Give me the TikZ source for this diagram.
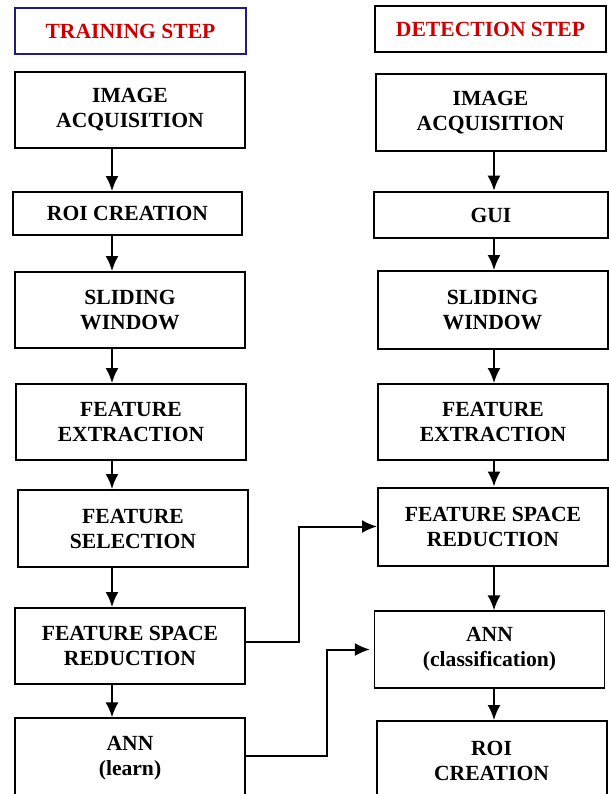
\documentclass[tikz,border=0pt]{standalone}
\usepackage{fontspec}
\setmainfont{Liberation Serif}
\usetikzlibrary{arrows.meta}

\begin{document}
\begin{tikzpicture}[>={Latex[length=7.5pt, width=6.5pt]}, x=0.5pt, y=-0.5pt]

\definecolor{headred}{RGB}{204, 0, 0}
\definecolor{headnavy}{RGB}{30, 30, 120}

% Page frame
\useasboundingbox (0,0) rectangle (609,794);
\fill[white] (0,0) rectangle (609,794);

\tikzset{
    stage box/.style={
        draw, line width=1pt, rectangle,
        minimum width=115pt, minimum height=38pt, inner sep=0pt,
        align=center, font=\fontsize{10.8}{12.5}\selectfont\bfseries
    },
    head box/.style={
        stage box, minimum width=115.5pt, minimum height=23pt, text=headred
    },
    feed/.style={
        ->, line width=1pt
    }
}

% Headings
\node[head box, draw=headnavy] (trainHead) at (130.5, 31) {TRAINING STEP};
\node[head box] (detectHead) at (490.5, 29) {DETECTION STEP};

% --- TRAINING STEP ---
\node[stage box] (trainImg) at (130, 110) {IMAGE\\ACQUISITION};
\node[stage box, minimum width=114.5pt, minimum height=21.5pt] (trainRoi) at (127.5, 213.5) {ROI CREATION};
\node[stage box] (trainSlide) at (130, 310) {SLIDING\\WINDOW};
\node[stage box] (trainExtract) at (131, 422) {FEATURE\\EXTRACTION};
\node[stage box, minimum height=38.5pt] (trainSelect) at (133, 528.5) {FEATURE\\SELECTION};
\node[stage box] (trainReduce) at (130, 646) {FEATURE SPACE\\REDUCTION};
\node[stage box, line width=0.6pt, minimum height=40pt] (trainAnn) at (130, 758) {ANN\\(learn)};

% --- DETECTION STEP ---
\node[stage box, minimum height=38.5pt] (detectImg) at (490.5, 112.5) {IMAGE\\ACQUISITION};
\node[stage box, minimum width=117pt, minimum height=23.3pt] (detectGui) at (491, 215) {GUI};
\node[stage box, minimum height=39pt] (detectSlide) at (492.5, 310) {SLIDING\\WINDOW};
\node[stage box] (detectExtract) at (493, 422) {FEATURE\\EXTRACTION};
\node[stage box, minimum height=39pt] (detectReduce) at (493, 526.5) {FEATURE SPACE\\REDUCTION};
\node[stage box, line width=0.6pt, minimum height=38.5pt] (detectAnn) at (489.5, 649.5) {ANN\\(classification)};
\node[stage box, minimum height=40pt] (detectRoi) at (491.5, 761) {ROI\\CREATION};

% arrow lanes
\coordinate (trainLane) at (112, 0);
\coordinate (detectLane) at (494, 0);

\draw[feed] (trainImg.south -| trainLane) -- (trainRoi.north -| trainLane);
\draw[feed] (trainRoi.south -| trainLane) -- (trainSlide.north -| trainLane);
\draw[feed] (trainSlide.south -| trainLane) -- (trainExtract.north -| trainLane);
\draw[feed] (trainExtract.south -| trainLane) -- (trainSelect.north -| trainLane);
\draw[feed] (trainSelect.south -| trainLane) -- (trainReduce.north -| trainLane);
\draw[feed] (trainReduce.south -| trainLane) -- (trainAnn.north -| trainLane);

\draw[feed] (detectImg.south -| detectLane) -- (detectGui.north -| detectLane);
\draw[feed] (detectGui.south -| detectLane) -- (detectSlide.north -| detectLane);
\draw[feed] (detectSlide.south -| detectLane) -- (detectExtract.north -| detectLane);
\draw[feed] (detectExtract.south -| detectLane) -- (detectReduce.north -| detectLane);
\draw[feed] (detectReduce.south -| detectLane) -- (detectAnn.north -| detectLane);
\draw[feed] (detectAnn.south -| detectLane) -- (detectRoi.north -| detectLane);

% --- cross links ---
\coordinate (bendA) at (299, 642);
\coordinate (bendB) at (327, 756);
\draw[feed] (trainReduce.east |- bendA) -- (bendA) |- (detectReduce.west);
\draw[feed, shorten >=2pt] (trainAnn.east |- bendB) -- (bendB) |- (detectAnn.west);

\end{tikzpicture}
\end{document}
